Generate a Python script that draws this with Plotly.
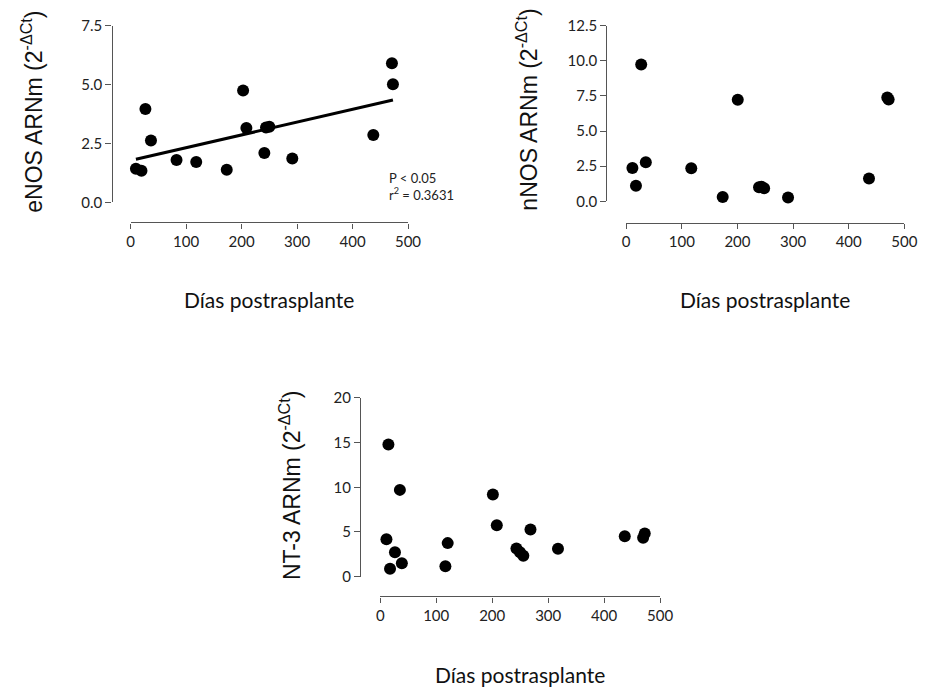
import numpy as np
import plotly.graph_objects as go

W, H = 935, 694

# ---- data ----
days_enos = [9.5, 19.5, 26.6, 36.6, 82.7, 118.2, 173.2, 202.7, 208.6, 241, 244, 250, 291.4, 437.4, 471, 472.8]
enos = [1.43, 1.34, 3.96, 2.62, 1.80, 1.71, 1.38, 4.75, 3.16, 2.09, 3.18, 3.21, 1.86, 2.86, 5.90, 5.01]

days_nnos = [11.2, 17.6, 27, 35.3, 117, 173.5, 200.6, 238.8, 243, 248, 291, 436.5, 469.4, 471.8]
nnos = [2.37, 1.12, 9.74, 2.78, 2.35, 0.32, 7.23, 1.00, 1.05, 0.94, 0.27, 1.62, 7.39, 7.25]

days_nt3 = [11.1, 14.6, 17.5, 26.3, 35.1, 38.6, 116.4, 120.5, 201.2, 208.2, 243.3, 249.7, 255.6, 268.4, 317.5, 436.8, 469.6, 472.5]
nt3 = [4.18, 14.8, 0.87, 2.73, 9.71, 1.49, 1.16, 3.75, 9.2, 5.75, 3.16, 2.73, 2.33, 5.27, 3.13, 4.51, 4.36, 4.84]

x_ticks = [0, 100, 200, 300, 400, 500]
y1_ticks = [0.0, 2.5, 5.0, 7.5]
y2_ticks = [0.0, 2.5, 5.0, 7.5, 10.0, 12.5]
y3_ticks = [0, 5, 10, 15, 20]

x_title = "Días postrasplante"
y1_title = "eNOS ARNm (2<sup>-ΔCt</sup>)"
y2_title = "nNOS ARNm (2<sup>-ΔCt</sup>)"
y3_title = "NT-3 ARNm (2<sup>-ΔCt</sup>)"
stat_text = "P < 0.05<br>r<sup>2</sup> = 0.3631"

# linear regression for eNOS
slope, intercept = np.polyfit(days_enos, enos, 1)
fit_x = np.array([min(days_enos), max(days_enos)])
fit_y = slope * fit_x + intercept


def px_x(p):
    return p / W


def px_y(p):
    return 1 - p / H


marker = dict(color="black", size=12, line=dict(width=0))

fig = go.Figure()
fig.add_trace(go.Scatter(x=days_enos, y=enos, mode="markers", marker=marker,
                         xaxis="x", yaxis="y", cliponaxis=False, showlegend=False))
fig.add_trace(go.Scatter(x=fit_x, y=fit_y, mode="lines", line=dict(color="black", width=3),
                         xaxis="x", yaxis="y", cliponaxis=False, showlegend=False))
fig.add_trace(go.Scatter(x=days_nnos, y=nnos, mode="markers", marker=marker,
                         xaxis="x2", yaxis="y2", cliponaxis=False, showlegend=False))
fig.add_trace(go.Scatter(x=days_nt3, y=nt3, mode="markers", marker=marker,
                         xaxis="x3", yaxis="y3", cliponaxis=False, showlegend=False))

tick_font = dict(family="Lato, sans-serif", size=15, color="#222")
axis_common = dict(showgrid=False, zeroline=False, showline=True, linecolor="#555",
                   linewidth=1.4, ticks="outside", tickcolor="#555", tickwidth=1.4,
                   tickfont=tick_font, anchor="free", fixedrange=True)


def xax(dom, pos, ticks):
    return dict(axis_common, domain=dom, position=pos, range=[0, 500],
                tickvals=ticks, ticktext=[str(t) for t in ticks], ticklen=5)


def yax(dom, pos, ticks, fmt):
    return dict(axis_common, domain=dom, position=pos, range=[ticks[0], ticks[-1]],
                tickvals=ticks, ticktext=[fmt.format(t) for t in ticks], ticklen=6)


layout = dict(
    width=W, height=H, margin=dict(l=0, r=0, t=0, b=0),
    paper_bgcolor="white", plot_bgcolor="white",
    xaxis=xax([px_x(129), px_x(411.5)], px_y(218), x_ticks),
    yaxis=yax([px_y(197.5), px_y(16)], px_x(109.5), y1_ticks, "{:.1f}"),
    xaxis2=xax([px_x(633.7), px_x(917)], px_y(218.5), x_ticks),
    yaxis2=yax([px_y(196.5), px_y(16)], px_x(613.5), y2_ticks, "{:.1f}"),
    xaxis3=xax([px_x(383.2), px_x(668.3)], px_y(602), x_ticks),
    yaxis3=yax([px_y(581.7), px_y(398.3)], px_x(362.7), y3_ticks, "{:d}"),
)
fig.update_layout(**layout)

title_font = dict(family="Liberation Sans, Arial, sans-serif", size=23, color="#111")
xtitle_font = dict(family="Lato, sans-serif", size=21, color="#111")

annots = [
    dict(text=y1_title, x=px_x(29), y=px_y(104), textangle=-90, font=title_font),
    dict(text=y2_title, x=px_x(533), y=px_y(102), textangle=-90, font=title_font),
    dict(text=y3_title, x=px_x(292), y=px_y(488), textangle=-90, font=title_font),
    dict(text=x_title, x=px_x(270), y=px_y(297), font=xtitle_font),
    dict(text=x_title, x=px_x(775), y=px_y(297), font=xtitle_font),
    dict(text=x_title, x=px_x(526), y=px_y(682), font=xtitle_font),
]
for a in annots:
    fig.add_annotation(xref="paper", yref="paper", showarrow=False,
                       xanchor="center", yanchor="middle", **a)
fig.add_annotation(xref="paper", yref="paper", showarrow=False, xanchor="left",
                   yanchor="middle", align="left", x=px_x(390), y=px_y(181),
                   text=stat_text, font=dict(family="Lato, sans-serif", size=13, color="#222"))

fig.write_html("out.html")
